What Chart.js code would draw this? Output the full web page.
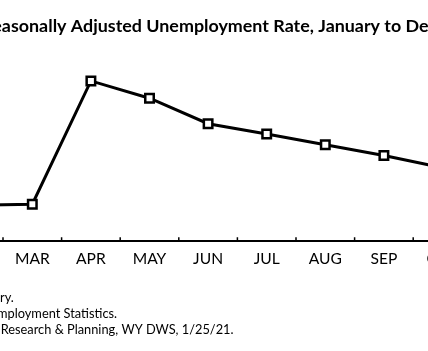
<!DOCTYPE html>
<html><head><meta charset="utf-8">
<script src="https://cdn.jsdelivr.net/npm/chart.js@4"></script>
<style>
html,body{margin:0;padding:0;overflow:hidden;background:#fff;}
#wrap{position:relative;width:428px;height:351px;overflow:hidden;background:#fff;}
#c{position:absolute;top:0;}
</style></head><body>
<div id="wrap"><canvas id="c" height="351"></canvas></div>
<script>
// ---- data ----
const months = ['JAN','FEB','MAR','APR','MAY','JUN','JUL','AUG','SEP','OCT','NOV','DEC'];
const rates = [3.6, 3.52, 3.57, 8.78, 8.05, 6.97, 6.54, 6.08, 5.63, 5.11, 4.8, 4.6];
const titleText = 'Wyoming Seasonally Adjusted Unemployment Rate, January to December 2020';
const footnoteTexts = [
  'Note: December 2020 data are preliminary.',
  'Source: Local Area Unemployment Statistics.',
  'Prepared by Research & Planning, WY DWS, 1/25/21.'
];
const yMin = 2, yMax = 10;

// ---- layout (the view is a crop of a wider chart) ----
const H = 351;
const LABEL_SIZE = 15.6, FOOT_SIZE = 12.8;
const mctx = document.createElement('canvas').getContext('2d');
// fit title size so the visible part spans the same width as in the reference
mctx.font = 'bold 20px Lato';
const visW20 = mctx.measureText('asonally Adjusted Unemployment Rate, January to De').width;
const TITLE_SIZE = +(20 * 427 / visW20).toFixed(2);
mctx.font = 'bold ' + TITLE_SIZE + 'px Lato';
const titleW = mctx.measureText(titleText).width;
const preW = mctx.measureText('Wyoming Se').width;
const titleCenterV = 2 - preW + titleW / 2;      // desired title centre in view coords
const areaLeftV = -114.2, areaRightV = 589;      // plot area edges in view coords
const OFF = Math.round(areaRightV - 2 * titleCenterV);
const W = Math.round(OFF + areaRightV);
const yAxisW = OFF + areaLeftV;
const canvas = document.getElementById('c');
canvas.width = W;
canvas.style.left = (-OFF) + 'px';

const footLayout = [
  {prefix: 'Note: December 2020 data are prelimina', startV: 0, y: 298},
  {prefix: 'Source: Local Area Une', startV: -3, y: 314},
  {prefix: 'Prepared by ', startV: 0.7, y: 329.5}
];

const tickPlugin = {
  id: 'inTicks',
  afterDraw(chart) {
    const xs = chart.scales.x, ctx = chart.ctx, b = chart.chartArea.bottom;
    ctx.save();
    ctx.strokeStyle = '#000'; ctx.lineWidth = 1.5;
    ctx.beginPath();
    for (let i = 0; i <= months.length; i++) {
      const x = xs.getPixelForValue(i - 0.5);
      ctx.moveTo(x, b); ctx.lineTo(x, b - 4);
    }
    ctx.stroke();
    ctx.restore();
  }
};
const footPlugin = {
  id: 'foot',
  afterDraw(chart) {
    const ctx = chart.ctx;
    ctx.save();
    ctx.font = FOOT_SIZE + 'px Lato';
    ctx.fillStyle = '#000'; ctx.textBaseline = 'middle'; ctx.textAlign = 'left';
    footnoteTexts.forEach((t, i) => {
      const f = footLayout[i];
      const x = f.startV + OFF - ctx.measureText(f.prefix).width;
      ctx.fillText(t, x, f.y);
    });
    ctx.restore();
  }
};

new Chart(canvas.getContext('2d'), {
  type: 'line',
  data: {
    labels: months,
    datasets: [{
      data: rates,
      borderColor: '#000', borderWidth: 3, tension: 0, fill: false,
      pointStyle: 'rect', pointRadius: 6, pointBorderWidth: 2.5,
      pointBackgroundColor: '#fff', pointBorderColor: '#000'
    }]
  },
  options: {
    responsive: false, animation: false, devicePixelRatio: 1,
    layout: {autoPadding: false, padding: {left: 0, right: 0, top: 0, bottom: 73.8}},
    plugins: {
      legend: {display: false}, tooltip: {enabled: false},
      title: {display: true, text: titleText, color: '#000',
        font: {family: 'Lato', size: TITLE_SIZE, weight: 'bold', lineHeight: 1.2},
        padding: {top: 15.6 - (TITLE_SIZE - 17.4) * 0.6, bottom: 15.6 - (TITLE_SIZE - 17.4) * 0.6}}
    },
    scales: {
      x: {
        offset: true,
        grid: {display: false, drawTicks: false},
        border: {display: true, color: '#000', width: 2},
        ticks: {color: '#000', font: {family: 'Lato', size: LABEL_SIZE}, padding: 8.6, maxRotation: 0, autoSkip: false}
      },
      y: {
        display: true, position: 'left', min: yMin, max: yMax,
        grid: {display: false, drawTicks: false},
        border: {display: false},
        ticks: {display: false},
        afterFit(scale) { scale.width = yAxisW; }
      }
    }
  },
  plugins: [tickPlugin, footPlugin]
});
</script>
</body></html>
